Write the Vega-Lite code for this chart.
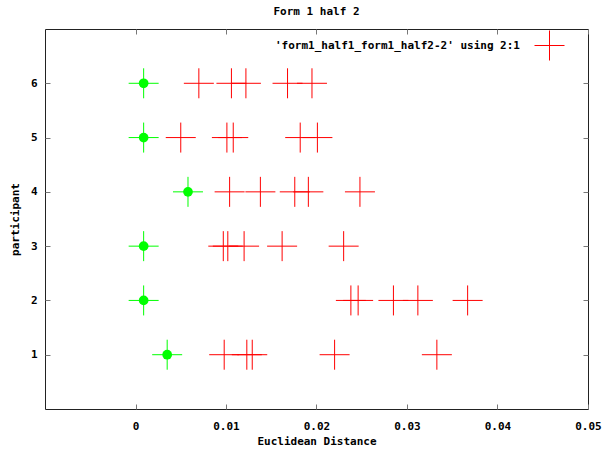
{
  "$schema": "https://vega.github.io/schema/vega-lite/v6.json",
  "width": 543,
  "height": 380,
  "autosize": {"type": "none"},
  "padding": {"left": 45, "top": 29, "right": 14, "bottom": 43},
  "background": "white",
  "title": {
    "text": "Form 1 half 2",
    "font": "DejaVu Sans Mono",
    "fontSize": 11,
    "fontWeight": "bold",
    "color": "black",
    "anchor": "middle",
    "offset": 12
  },
  "config": {
    "view": {"stroke": "#222", "strokeWidth": 1},
    "mark": {"color": "#ff0000"},
    "point": {"color": "#ff0000"},
    "legend": {"symbolStrokeColor": "#ff0000", "symbolBaseStrokeColor": "#ff0000", "symbolBaseFillColor": "transparent"},
    "axis": {
      "grid": false,
      "domain": false,
      "tickSize": -5,
      "tickColor": "#777",
      "labelFont": "DejaVu Sans Mono",
      "labelFontSize": 11,
      "labelFontWeight": "bold",
      "labelColor": "black",
      "labelFlush": false,
      "labelOverlap": false,
      "labelBound": false,
      "titleFont": "DejaVu Sans Mono",
      "titleFontSize": 11,
      "titleFontWeight": "bold",
      "titleColor": "black"
    }
  },
  "data": {
    "values": [
      {"participant": 6, "distance": 0.0009, "series": "green"},
      {"participant": 5, "distance": 0.0009, "series": "green"},
      {"participant": 4, "distance": 0.0058, "series": "green"},
      {"participant": 3, "distance": 0.0009, "series": "green"},
      {"participant": 2, "distance": 0.0009, "series": "green"},
      {"participant": 1, "distance": 0.0035, "series": "green"},
      {"participant": 6, "distance": 0.0070, "series": "'form1_half1_form1_half2-2' using 2:1"},
      {"participant": 6, "distance": 0.0106, "series": "'form1_half1_form1_half2-2' using 2:1"},
      {"participant": 6, "distance": 0.0122, "series": "'form1_half1_form1_half2-2' using 2:1"},
      {"participant": 6, "distance": 0.0168, "series": "'form1_half1_form1_half2-2' using 2:1"},
      {"participant": 6, "distance": 0.0195, "series": "'form1_half1_form1_half2-2' using 2:1"},
      {"participant": 5, "distance": 0.0050, "series": "'form1_half1_form1_half2-2' using 2:1"},
      {"participant": 5, "distance": 0.0101, "series": "'form1_half1_form1_half2-2' using 2:1"},
      {"participant": 5, "distance": 0.0108, "series": "'form1_half1_form1_half2-2' using 2:1"},
      {"participant": 5, "distance": 0.0182, "series": "'form1_half1_form1_half2-2' using 2:1"},
      {"participant": 5, "distance": 0.0201, "series": "'form1_half1_form1_half2-2' using 2:1"},
      {"participant": 4, "distance": 0.0104, "series": "'form1_half1_form1_half2-2' using 2:1"},
      {"participant": 4, "distance": 0.0138, "series": "'form1_half1_form1_half2-2' using 2:1"},
      {"participant": 4, "distance": 0.0176, "series": "'form1_half1_form1_half2-2' using 2:1"},
      {"participant": 4, "distance": 0.0191, "series": "'form1_half1_form1_half2-2' using 2:1"},
      {"participant": 4, "distance": 0.0248, "series": "'form1_half1_form1_half2-2' using 2:1"},
      {"participant": 3, "distance": 0.0097, "series": "'form1_half1_form1_half2-2' using 2:1"},
      {"participant": 3, "distance": 0.0102, "series": "'form1_half1_form1_half2-2' using 2:1"},
      {"participant": 3, "distance": 0.0120, "series": "'form1_half1_form1_half2-2' using 2:1"},
      {"participant": 3, "distance": 0.0162, "series": "'form1_half1_form1_half2-2' using 2:1"},
      {"participant": 3, "distance": 0.0230, "series": "'form1_half1_form1_half2-2' using 2:1"},
      {"participant": 2, "distance": 0.0238, "series": "'form1_half1_form1_half2-2' using 2:1"},
      {"participant": 2, "distance": 0.0246, "series": "'form1_half1_form1_half2-2' using 2:1"},
      {"participant": 2, "distance": 0.0285, "series": "'form1_half1_form1_half2-2' using 2:1"},
      {"participant": 2, "distance": 0.0312, "series": "'form1_half1_form1_half2-2' using 2:1"},
      {"participant": 2, "distance": 0.0367, "series": "'form1_half1_form1_half2-2' using 2:1"},
      {"participant": 1, "distance": 0.0098, "series": "'form1_half1_form1_half2-2' using 2:1"},
      {"participant": 1, "distance": 0.0123, "series": "'form1_half1_form1_half2-2' using 2:1"},
      {"participant": 1, "distance": 0.0129, "series": "'form1_half1_form1_half2-2' using 2:1"},
      {"participant": 1, "distance": 0.0220, "series": "'form1_half1_form1_half2-2' using 2:1"},
      {"participant": 1, "distance": 0.0333, "series": "'form1_half1_form1_half2-2' using 2:1"}
    ]
  },
  "encoding": {
    "x": {
      "field": "distance",
      "type": "quantitative",
      "scale": {"domain": [-0.01, 0.05], "nice": false, "zero": false}
    },
    "y": {
      "field": "participant",
      "type": "quantitative",
      "scale": {"domain": [0, 7], "nice": false}
    }
  },
  "layer": [
    {
      "transform": [{"filter": "datum.series != 'green'"}],
      "mark": {"type": "point", "shape": "M-1,0H1M0,-1V1", "size": 900, "filled": false, "strokeWidth": 1, "opacity": 1, "color": "#ff0000"},
      "encoding": {
        "x": {
          "field": "distance",
          "type": "quantitative",
          "axis": {
            "orient": "bottom",
            "values": [0, 0.01, 0.02, 0.03, 0.04, 0.05],
            "format": ".2~f",
            "labelPadding": 16,
            "title": "Euclidean Distance",
            "titlePadding": 4
          }
        },
        "y": {
          "field": "participant",
          "type": "quantitative",
          "axis": {
            "orient": "left",
            "values": [1, 2, 3, 4, 5, 6],
            "labelPadding": 13,
            "title": "participant",
            "titlePadding": 10
          }
        },
        "stroke": {
          "field": "series",
          "type": "nominal",
          "scale": {"range": ["#ff0000"]},
          "legend": {
            "title": null,
            "orient": "none",
            "legendX": 489,
            "legendY": 1,
            "padding": 0,
            "symbolType": "M-1,0H1M0,-1V1",
            "symbolSize": 900,
            "symbolStrokeWidth": 1,
            "symbolStrokeColor": "#ff0000",
            "symbolOpacity": 1,
            "labelAlign": "right",
            "labelOffset": -45,
            "labelLimit": 400,
            "labelFont": "DejaVu Sans Mono",
            "labelFontSize": 11,
            "labelFontWeight": "bold",
            "labelColor": "black"
          }
        }
      }
    },
    {
      "transform": [{"filter": "datum.series == 'green'"}],
      "mark": {"type": "point", "shape": "M-1,0H1M0,-1V1", "size": 900, "filled": false, "strokeWidth": 1, "color": "#00ff00", "opacity": 1},
      "encoding": {
        "x": {"field": "distance", "type": "quantitative", "axis": null},
        "y": {"field": "participant", "type": "quantitative", "axis": null}
      }
    },
    {
      "transform": [{"filter": "datum.series == 'green'"}],
      "mark": {"type": "point", "shape": "circle", "size": 95, "filled": true, "color": "#00ff00", "opacity": 1},
      "encoding": {
        "x": {
          "field": "distance",
          "type": "quantitative",
          "axis": {"orient": "top", "values": [0, 0.01, 0.02, 0.03, 0.04, 0.05], "labels": false, "title": null}
        },
        "y": {
          "field": "participant",
          "type": "quantitative",
          "axis": {"orient": "right", "values": [1, 2, 3, 4, 5, 6], "labels": false, "title": null}
        }
      }
    }
  ],
  "resolve": {"axis": {"x": "independent", "y": "independent"}}
}
